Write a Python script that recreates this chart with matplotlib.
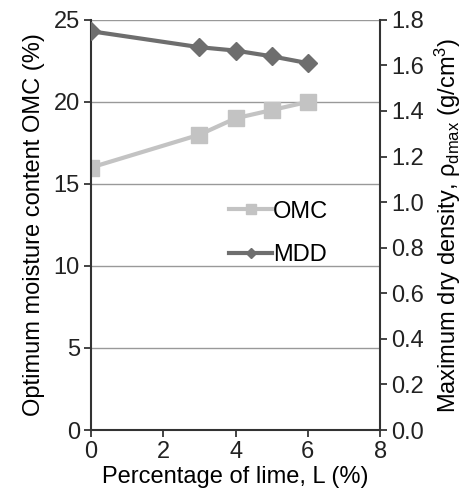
import matplotlib
matplotlib.use("Agg")
import matplotlib.pyplot as plt

plt.rcParams['font.family'] = ['Liberation Sans', 'DejaVu Sans']
plt.rcParams['mathtext.fontset'] = 'custom'
plt.rcParams['mathtext.rm'] = 'Liberation Sans'
plt.rcParams['mathtext.it'] = 'Liberation Sans:italic'

lime = [0, 3, 4, 5, 6]
omc = [16, 18, 19, 19.5, 20]
mdd = [1.75, 1.68, 1.665, 1.64, 1.61]

fig = plt.figure(figsize=(4.67, 4.96), dpi=100)
ax = fig.add_axes([0.195, 0.133, 0.619, 0.827])
ax2 = ax.twinx()

fs = 17
spine_c = '#333333'

l1, = ax.plot(lime, omc, color='#c3c3c3', lw=3, marker='s', ms=11, label='OMC')
l2, = ax2.plot(lime, mdd, color='#6e6e6e', lw=3, marker='D', ms=9, label='MDD')

ax.set_xlim(0, 8)
ax.set_ylim(0, 25)
ax2.set_ylim(0, 1.8)
ax.set_xticks([0, 2, 4, 6, 8])
ax.set_yticks([0, 5, 10, 15, 20, 25])
ax2.set_yticks([0.0, 0.2, 0.4, 0.6, 0.8, 1.0, 1.2, 1.4, 1.6, 1.8])
ax2.set_yticklabels([f"{v:.1f}" for v in ax2.get_yticks()])

for y in [5, 10, 15, 20, 25]:
    ax.axhline(y, color='#999999', lw=1, zorder=0)

for a in (ax, ax2):
    a.spines['top'].set_visible(False)
    for s in ('left', 'right', 'bottom'):
        a.spines[s].set_color(spine_c)
        a.spines[s].set_linewidth(1.5)
    a.tick_params(labelsize=fs, colors='#222222', width=1.2, length=5,
                  direction='out', pad=3)
ax.spines['right'].set_visible(False)
ax2.spines['left'].set_visible(False)
ax2.spines['bottom'].set_visible(False)

ax.set_xlabel("Percentage of lime, L (%)", fontsize=fs, labelpad=2)
ax.set_ylabel("Optimum moisture content OMC (%)", fontsize=fs, labelpad=6)
ax2.set_ylabel("Maximum dry density, ρ$_{\\mathrm{dmax}}$ (g/cm$^3$)",
               fontsize=fs, labelpad=6)

ax2.legend([l1, l2], ['OMC', 'MDD'], loc='center left', bbox_to_anchor=(0.405, 0.48),
           frameon=False, fontsize=fs, handlelength=1.8, handletextpad=0.05,
           labelspacing=0.9, markerscale=0.6)

fig.savefig("out.png", dpi=100)
